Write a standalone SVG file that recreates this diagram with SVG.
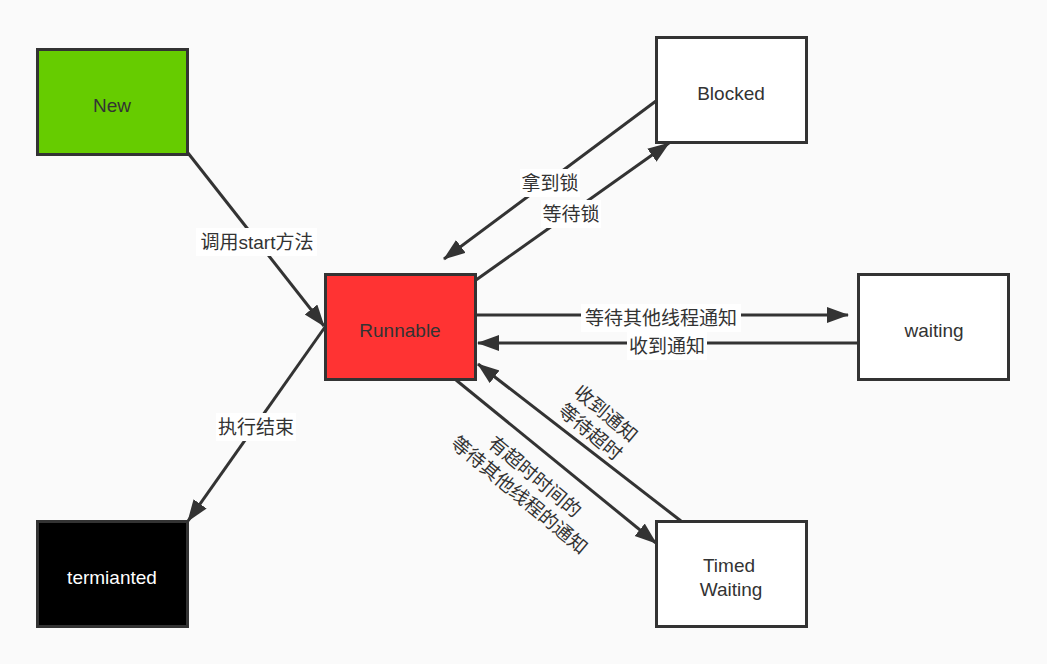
<svg xmlns="http://www.w3.org/2000/svg" width="1047" height="664" viewBox="0 0 1047 664">
<style>
.node{stroke:#333;stroke-width:3}
.nt{font-family:"Liberation Sans","Noto Sans CJK SC",sans-serif;font-size:19px;fill:#333;text-anchor:middle;dominant-baseline:central}
.edge{stroke:#333;stroke-width:3;fill:none;marker-end:url(#ah)}
.lb{font-family:"Liberation Sans","Noto Sans CJK SC",sans-serif;font-size:19px;fill:#333;text-anchor:middle;dominant-baseline:central}
.lbg{fill:#fff}
</style>
<defs>
<marker id="ah" markerUnits="userSpaceOnUse" markerWidth="24" markerHeight="18" refX="21" refY="8" orient="auto">
<path d="M0,0 L22,8 L0,16 z" fill="#333"/>
</marker>
</defs>
<rect x="0" y="0" width="1047" height="664" fill="#fafafa"/>
<g id="connectors">
<line class="edge" x1="188" y1="153" x2="324" y2="326"/>
<line class="edge" x1="656" y1="101" x2="444" y2="259"/>
<line class="edge" x1="476" y1="280" x2="669" y2="143"/>
<line class="edge" x1="477" y1="315" x2="848" y2="315"/>
<line class="edge" x1="858" y1="343" x2="478" y2="343"/>
<line class="edge" x1="325" y1="327" x2="188" y2="521"/>
<line class="edge" x1="456" y1="380" x2="656" y2="543"/>
<line class="edge" x1="681" y1="521" x2="478" y2="364"/>
<rect class="lbg" x="196" y="228" width="121" height="28"/>
<text class="lb" x="257" y="242">调用start方法</text>
<rect class="lbg" x="520" y="169" width="60" height="28"/>
<text class="lb" x="550" y="183">拿到锁</text>
<rect class="lbg" x="541" y="200" width="60" height="28"/>
<text class="lb" x="571" y="214">等待锁</text>
<rect class="lbg" x="581" y="304" width="160" height="28"/>
<text class="lb" x="661" y="318">等待其他线程通知</text>
<rect class="lbg" x="627" y="332" width="80" height="28"/>
<text class="lb" x="667" y="346">收到通知</text>
<rect class="lbg" x="216" y="413" width="80" height="28"/>
<text class="lb" x="256" y="427">执行结束</text>
<g transform="translate(598,423) rotate(40)">
<text class="lb" x="0" y="-12">收到通知</text>
<text class="lb" x="0" y="12">等待超时</text>
</g>
<g transform="translate(527,486) rotate(40)">
<text class="lb" x="0" y="-12">有超时时间的</text>
<text class="lb" x="0" y="12">等待其他线程的通知</text>
</g>
</g>
<g id="node-new">
<rect class="node" x="37.5" y="49.5" width="150" height="105" fill="#66cc00"/>
<text class="nt" x="112" y="105">New</text>
</g>
<g id="node-blocked">
<rect class="node" x="656.5" y="37.5" width="150" height="105" fill="#fff"/>
<text class="nt" x="731" y="93">Blocked</text>
</g>
<g id="node-runnable">
<rect class="node" x="325.5" y="274.5" width="150" height="105" fill="#ff3333"/>
<text class="nt" x="400" y="330">Runnable</text>
</g>
<g id="node-waiting">
<rect class="node" x="858.5" y="274.5" width="150" height="105" fill="#fff"/>
<text class="nt" x="934" y="330">waiting</text>
</g>
<g id="node-terminated">
<rect class="node" x="37.5" y="521.5" width="150" height="105" fill="#000"/>
<text class="nt" x="112" y="577" style="fill:#fff">termianted</text>
</g>
<g id="node-timed">
<rect class="node" x="656.5" y="521.5" width="150" height="105" fill="#fff"/>
<text class="nt" x="729" y="565">Timed</text>
<text class="nt" x="731" y="589">Waiting</text>
</g>
</svg>
